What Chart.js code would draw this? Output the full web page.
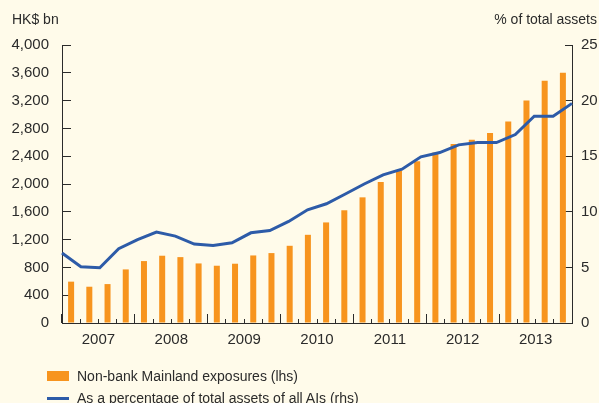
<!DOCTYPE html>
<html>
<head>
<meta charset="utf-8">
<script src="https://cdn.jsdelivr.net/npm/chart.js@4"></script>
<style>
  html, body { margin: 0; padding: 0; background: #FFFBEA; overflow: hidden; }
  #wrap { position: relative; width: 599px; height: 403px; overflow: hidden; }
  #legend { position: absolute; left: 47px; top: 365px; font: 14px "Liberation Sans", Arial, sans-serif; color: #2b2b2b; }
  .item { display: flex; align-items: center; height: 22px; white-space: nowrap; }
  .swatch { width: 22px; margin-right: 8px; }
</style>
</head>
<body>
<div id="wrap">
  <canvas id="chart" width="599" height="403"></canvas>
  <div id="legend"></div>
</div>
<script>
// Quarterly observations, 2007 Q1 - 2013 Q4
const quarters = [
  "2007 Q1", "2007 Q2", "2007 Q3", "2007 Q4",
  "2008 Q1", "2008 Q2", "2008 Q3", "2008 Q4",
  "2009 Q1", "2009 Q2", "2009 Q3", "2009 Q4",
  "2010 Q1", "2010 Q2", "2010 Q3", "2010 Q4",
  "2011 Q1", "2011 Q2", "2011 Q3", "2011 Q4",
  "2012 Q1", "2012 Q2", "2012 Q3", "2012 Q4",
  "2013 Q1", "2013 Q2", "2013 Q3", "2013 Q4",
];
const years = ["2007", "2008", "2009", "2010", "2011", "2012", "2013"];

// HK$ bn (lhs)
const exposures = [
  595, 522, 560, 771, 891, 968, 948, 857, 824, 853, 972, 1006, 1111, 1269,
  1447, 1622, 1808, 2030, 2195, 2328, 2453, 2577, 2635, 2735, 2898, 3200,
  3487, 3602,
];
// % of total assets of all AIs (rhs)
const share = [
  6.29, 5.06, 4.97, 6.68, 7.49, 8.17, 7.81, 7.1, 6.98, 7.22, 8.11, 8.32,
  9.13, 10.18, 10.72, 11.6, 12.5, 13.32, 13.83, 14.94, 15.33, 16.02, 16.23,
  16.23, 16.95, 18.6, 18.6, 19.75,
];

const leftTitle = "HK$ bn";
const rightTitle = "% of total assets";
const barLabel = "Non-bank Mainland exposures (lhs)";
const lineLabel = "As a percentage of total assets of all AIs (rhs)";

const ORANGE = "#F7941E";
const BLUE = "#2D5BA8";
const INK = "#2b2b2b";
const FONT = '"Liberation Sans", Arial, sans-serif';

Chart.defaults.font.family = FONT;
Chart.defaults.font.size = 15;
Chart.defaults.color = INK;

// axis unit labels above the two y axes
const axisTitles = {
  id: "axisTitles",
  afterDraw(chart) {
    const c = chart.ctx;
    c.save();
    c.font = "14px " + FONT;
    c.fillStyle = INK;
    c.textBaseline = "middle";
    c.textAlign = "left";
    c.fillText(leftTitle, 12, 20);
    c.textAlign = "right";
    c.fillText(rightTitle, 597, 20);
    c.restore();
  },
};

const tickGrid = (len) => ({
  drawOnChartArea: false,
  drawTicks: true,
  tickLength: len, // negative = tick points into the plot
  color: INK,
  lineWidth: 1,
});

const chart = new Chart(document.getElementById("chart"), {
  type: "bar",
  data: {
    labels: quarters,
    datasets: [
      {
        type: "bar",
        label: barLabel,
        data: exposures,
        xAxisID: "x",
        yAxisID: "y",
        backgroundColor: ORANGE,
        grouped: false,
        barPercentage: 0.33,
        categoryPercentage: 1,
        order: 2,
      },
      {
        type: "line",
        label: lineLabel,
        data: share,
        xAxisID: "xLine",
        yAxisID: "y1",
        borderColor: BLUE,
        borderWidth: 3,
        pointRadius: 0,
        tension: 0,
        order: 1,
      },
    ],
  },
  options: {
    responsive: false,
    animation: false,
    layout: { padding: { left: 0, right: 0, top: 45, bottom: 50 } },
    plugins: { legend: { display: false }, tooltip: { enabled: false } },
    scales: {
      x: {
        type: "category",
        position: "bottom",
        weight: 0,
        offset: true,
        grid: { ...tickGrid(-4), offset: true },
        border: { display: true, color: INK, width: 1 },
        ticks: { display: false },
        afterFit: (s) => { s.height = 0; },
      },
      xYear: {
        type: "category",
        labels: years,
        position: "bottom",
        weight: 1,
        offset: true,
        grid: { ...tickGrid(-9), offset: true },
        border: { display: false },
        ticks: { padding: 17, maxRotation: 0, autoSkip: false },
        afterFit: (s) => { s.height = 30; },
      },
      xLine: {
        type: "category",
        position: "bottom",
        weight: 2,
        offset: false,
        display: false,
      },
      y: {
        position: "left",
        min: 0,
        max: 4000,
        ticks: { stepSize: 400, padding: 22 },
        grid: tickGrid(-9),
        border: { display: true, color: INK, width: 1 },
        afterFit: (s) => { s.width = 62; },
      },
      y1: {
        position: "right",
        min: 0,
        max: 25,
        ticks: { stepSize: 5, padding: 16 },
        grid: tickGrid(-7),
        border: { display: true, color: INK, width: 1 },
        afterFit: (s) => { s.width = 27; },
      },
    },
  },
  plugins: [axisTitles],
});

// legend stacked below the chart, built from the datasets
const legend = document.getElementById("legend");
chart.data.datasets.forEach((ds) => {
  const item = document.createElement("div");
  item.className = "item";
  const sw = document.createElement("span");
  sw.className = "swatch";
  if (ds.type === "bar") {
    sw.style.height = "10px";
    sw.style.background = ds.backgroundColor;
  } else {
    sw.style.height = "3px";
    sw.style.background = ds.borderColor;
  }
  const txt = document.createElement("span");
  txt.textContent = ds.label;
  item.appendChild(sw);
  item.appendChild(txt);
  legend.appendChild(item);
});
</script>
</body>
</html>
